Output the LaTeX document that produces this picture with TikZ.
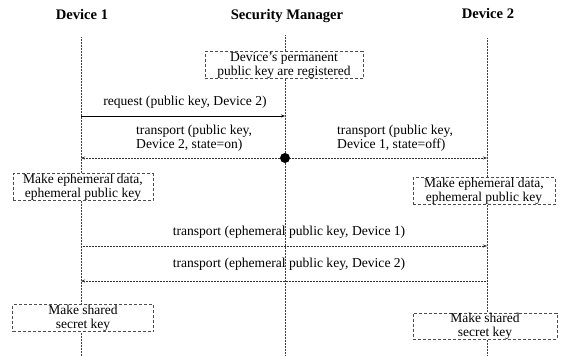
\documentclass[tikz,border=0pt]{standalone}
\usepackage{fontspec}
\setmainfont{Liberation Serif}
\usetikzlibrary{arrows.meta}
\begin{document}
\begin{tikzpicture}[x=1pt,y=-1pt,
  hdr/.style={font=\bfseries\fontsize{14.6}{15}\selectfont, inner sep=0pt},
  lbl/.style={font=\fontsize{13.6}{14}\selectfont, inner sep=0pt, align=left},
  lifeline/.style={draw=black!75, line width=0.5pt, densely dotted},
  actbox/.style={draw=black!70, line width=0.5pt, densely dashed, fill=white, align=center,
     font=\fontsize{13.5}{14}\selectfont, inner sep=0pt},
  msgsolid/.style={draw=black, line width=0.6pt, -{Stealth[length=4pt,width=3pt]}},
  msgdot/.style={draw=black!80, line width=0.5pt, densely dotted, -{Stealth[length=4pt,width=3pt]}}
]
\useasboundingbox[fill=white] (0,0) rectangle (568,356);

% headers
\node[hdr] (hd1) at (82,15) {Device 1};
\node[hdr] (hsm) at (287,16) {Security Manager};
\node[hdr] (hd2) at (488,14) {Device 2};

% lifeline coordinates
\coordinate (d1top) at (81,37);
\coordinate (smtop) at (285,35);
\coordinate (d2top) at (487,38);
\coordinate (d1bot) at (81,356);
\coordinate (smbot) at (285,356);
\coordinate (d2bot) at (487,356);
\draw[lifeline] (d1top) -- (d1bot);
\draw[lifeline] (smtop) -- (smbot);
\draw[lifeline] (d2top) -- (d2bot);

% registered box
\node[actbox, minimum width=158pt, minimum height=27pt] (reg) at (284,65)
  {Device's permanent\\public key are registered};

% request
\coordinate (d1req) at (81,116);
\coordinate (smreq) at (285,116);
\node[lbl] (reqlbl) at (185,102) {request (public key, Device 2)};
\draw[msgsolid] (d1req) -- (smreq);

% transport public keys
\node[circle, fill=black, inner sep=0pt, minimum size=10pt] (dot) at (285,158) {};
\coordinate (d1tr) at (81,158);
\coordinate (d2tr) at (487,158);
\draw[msgdot] (dot) -- (d1tr);
\draw[msgdot] (dot) -- (d2tr);
\node[lbl, anchor=west] (trl) at (136,138.5) {transport (public key,\\Device 2, state=on)};
\node[lbl, anchor=west] (trr) at (337,138.5) {transport (public key,\\Device 1, state=off)};

% ephemeral boxes
\node[actbox, minimum width=140pt, minimum height=27pt] (eph1) at (83,187)
  {Make ephemeral data,\\ephemeral public key};
\node[actbox, minimum width=142pt, minimum height=27pt] (eph2) at (484,191)
  {Make ephemeral data,\\ephemeral public key};

% ephemeral transports
\coordinate (d1e1) at (81,246);
\coordinate (d2e1) at (487,246);
\coordinate (d1e2) at (81,281);
\coordinate (d2e2) at (487,281);
\node[lbl] (e1lbl) at (289,232) {transport (ephemeral public key, Device 1)};
\draw[msgdot] (d1e1) -- (d2e1);
\node[lbl] (e2lbl) at (289,264) {transport (ephemeral public key, Device 2)};
\draw[msgdot] (d2e2) -- (d1e2);

% shared secret boxes
\node[actbox, minimum width=141pt, minimum height=27pt] (sh1) at (83,318)
  {Make shared\\secret key};
\node[actbox, minimum width=144pt, minimum height=26pt] (sh2) at (485,326)
  {Make shared\\secret key};
\end{tikzpicture}
\end{document}
